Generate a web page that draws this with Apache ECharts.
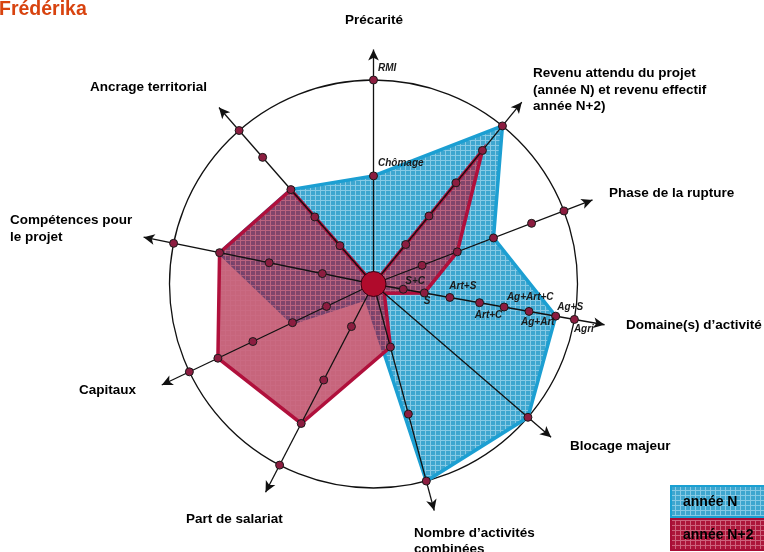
<!DOCTYPE html>
<html>
<head>
<meta charset="utf-8">
<script src="https://cdn.jsdelivr.net/npm/echarts@6.0.0/dist/echarts.min.js"></script>
<style>
  html, body { margin: 0; padding: 0; background: #fff; }
  #chart { width: 764px; height: 552px; }
</style>
</head>
<body>
<div id="chart"></div>
<script>
// axes of the radar, clockwise from the top (degrees)
const categories = [
    'Précarité',
    'Revenu attendu du projet\n(année N) et revenu effectif\nannée N+2)',
    'Phase de la rupture',
    'Domaine(s) d’activité',
    'Blocage majeur',
    'Nombre d’activités\ncombinées',
    'Part de salariat',
    'Capitaux',
    'Compétences pour\nle projet',
    'Ancrage territorial'
];
const axisAngles = [0, 39.2, 69, 100, 130.8, 165, 207.4, 244.5, 281.5, 318.8];

// graduation dots on each axis (100 = outer circle)
const axisTicks = [
    [53, 100],
    [25, 43, 64, 84.5, 100],
    [25.5, 44, 63, 83, 100],
    [14.8, 25.3, 38, 52.8, 65, 77.4, 90.7, 100],
    [100],
    [32, 66, 100],
    [23.5, 53, 77, 100],
    [25.5, 44, 65.5, 84.5, 100],
    [25.6, 52.2, 77, 100],
    [25, 43.7, 61.5, 82.5, 100]
];
const tickLabels = [
    ['Chômage', 'RMI'],
    [], [],
    ['S+C', 'S', 'Art+S', 'Art+C', 'Ag+Art+C', 'Ag+Art', 'Ag+S', 'Agri'],
    [], [], [], [], [], []
];

const seriesNames = ['année N', 'année N+2'];
const anneeN  = [53, 100, 63, 90.7, 100, 100, 8, 44, 77, 61.5];
const anneeN2 = [0, 84.5, 44, 25.3, 7, 32, 77, 84.5, 77, 61.5];

// layout (pixels)
const CENTER = [373.5, 284];
const CIRCLE_PX = 204;
const RMAX = 118;
const ARROW_AT = 115;

// where the small tick labels sit relative to their dot [dx, dy]
const tickLabelOffsets = [
    [[5, -12], [5, -11]],
    [], [],
    [[2.5, -7], [0, 8.7], [0, -10.7], [-4.3, 12.7], [3.3, -9.3], [-7.5, 11], [2, -8.4], [0, 10.3]],
    [], [], [], [], [], []
];
// axis name positions: [x, y(top), align]
const nameLayout = [
    [374, 12, 'center'],
    [533, 65.5, 'left'],
    [609, 185.5, 'left'],
    [626, 317.5, 'left'],
    [570, 438, 'left'],
    [414, 525, 'left'],
    [186, 511.5, 'left'],
    [79, 382.5, 'left'],
    [10, 212.5, 'left'],
    [90, 79, 'left']
];

function makePattern(base, line) {
    const c = document.createElement('canvas');
    c.width = 5; c.height = 5;
    const ctx = c.getContext('2d');
    ctx.fillStyle = base;
    ctx.fillRect(0, 0, 5, 5);
    ctx.fillStyle = line;
    ctx.fillRect(0, 0, 5, 1);
    ctx.fillRect(0, 1, 1, 4);
    return {image: c, repeat: 'repeat'};
}
const bluePattern = makePattern('rgb(62,166,207)', 'rgb(135,202,229)');
const redPattern = makePattern('rgba(168,14,50,0.64)', 'rgba(205,110,135,0.64)');
const blueLegendPattern = makePattern('rgb(62,166,207)', 'rgb(135,202,229)');
const redLegendPattern = makePattern('rgb(172,22,58)', 'rgb(205,100,125)');

const chart = echarts.init(document.getElementById('chart'));

function polygonSeries(name, values, fill, stroke, z) {
    return {
        type: 'custom',
        name: name,
        coordinateSystem: 'polar',
        polarIndex: 0,
        z: z,
        silent: true,
        data: values.map(function (r, i) { return [r, axisAngles[i]]; }),
        renderItem: function (params, api) {
            if (params.dataIndex !== 0) return;
            const pts = values.map(function (r, i) { return api.coord([r, axisAngles[i]]); });
            return {
                type: 'polygon',
                shape: {points: pts},
                style: {fill: fill, stroke: stroke, lineWidth: 3.5, lineJoin: 'miter'}
            };
        }
    };
}

const series = [];
series.push(polygonSeries(seriesNames[0], anneeN, bluePattern, '#1c9fd2', 3));
series.push(polygonSeries(seriesNames[1], anneeN2, redPattern, '#b0103c', 4));

// spokes with arrow heads
axisAngles.forEach(function (a) {
    series.push({
        type: 'line',
        coordinateSystem: 'polar',
        polarIndex: 0,
        z: 5,
        silent: true,
        lineStyle: {color: '#111', width: 1.3},
        itemStyle: {color: '#111'},
        data: [
            {value: [0, a], symbol: 'none'},
            {value: [ARROW_AT, a], symbol: 'arrow', symbolSize: [8, 11], symbolRotate: -a}
        ]
    });
});

// graduation dots
const dotData = [];
axisTicks.forEach(function (ticks, i) {
    ticks.forEach(function (r, j) {
        const item = {value: [r, axisAngles[i]]};
        const txt = tickLabels[i][j];
        if (txt) {
            const off = tickLabelOffsets[i][j];
            item.label = {
                show: true,
                formatter: txt,
                position: [off[0] + 4, off[1] + 4],
                align: 'left',
                verticalAlign: 'middle',
                fontFamily: 'Liberation Sans',
                fontStyle: 'italic',
                fontWeight: 'bold',
                fontSize: 10,
                color: '#1a1a1a'
            };
        }
        dotData.push(item);
    });
});
series.push({
    type: 'scatter',
    coordinateSystem: 'polar',
    polarIndex: 0,
    z: 6,
    silent: true,
    symbol: 'circle',
    symbolSize: 8,
    itemStyle: {color: '#8c1d40', borderColor: '#1a1a1a', borderWidth: 1, opacity: 1},
    data: dotData
});
// centre hub
series.push({
    type: 'scatter',
    coordinateSystem: 'polar',
    polarIndex: 0,
    z: 7,
    silent: true,
    symbol: 'circle',
    symbolSize: 25,
    itemStyle: {color: '#b00b2c', borderColor: '#3a0012', borderWidth: 1, opacity: 1},
    data: [[0, 0]]
});

const graphics = [];
graphics.push({
    type: 'text', x: -1, y: 10,
    style: {text: 'Frédérika', font: 'bold 19.5px "Liberation Sans"', fill: '#d8430f',
        align: 'left', verticalAlign: 'middle', textAlign: 'left', textVerticalAlign: 'middle'}
});
categories.forEach(function (name, i) {
    const l = nameLayout[i];
    graphics.push({
        type: 'text', x: l[0], y: l[1],
        style: {text: name, font: 'bold 13.5px "Liberation Sans"', fill: '#000', lineHeight: 16.5,
            align: l[2], verticalAlign: 'top', textAlign: l[2], textVerticalAlign: 'top'}
    });
});
// legend boxes
[[blueLegendPattern, '#1aa0d2', 486], [redLegendPattern, '#a80d36', 519]].forEach(function (b, i) {
    graphics.push({
        type: 'rect', shape: {x: 671, y: b[2], width: 100, height: 31},
        style: {fill: b[0], stroke: b[1], lineWidth: 2}
    });
    graphics.push({
        type: 'text', x: 683, y: b[2] + 16,
        style: {text: seriesNames[i], font: 'bold 14px "Liberation Sans"', fill: '#000',
            align: 'left', verticalAlign: 'middle', textAlign: 'left', textVerticalAlign: 'middle'}
    });
});

const option = {
    animation: false,
    backgroundColor: '#fff',
    polar: [
        {center: CENTER, radius: CIRCLE_PX * RMAX / 100},
        {center: CENTER, radius: CIRCLE_PX}
    ],
    angleAxis: [
        {polarIndex: 0, type: 'value', min: 0, max: 360, startAngle: 90, clockwise: true, show: false},
        {polarIndex: 1, type: 'value', min: 0, max: 360, startAngle: 90, clockwise: true,
            axisLine: {show: true, lineStyle: {color: '#111', width: 1.3}},
            axisTick: {show: false}, axisLabel: {show: false}, splitLine: {show: false}}
    ],
    radiusAxis: [
        {polarIndex: 0, type: 'value', min: 0, max: RMAX, show: false},
        {polarIndex: 1, type: 'value', min: 0, max: 100, show: false}
    ],
    graphic: {elements: graphics},
    series: series
};
chart.setOption(option);
</script>
</body>
</html>
